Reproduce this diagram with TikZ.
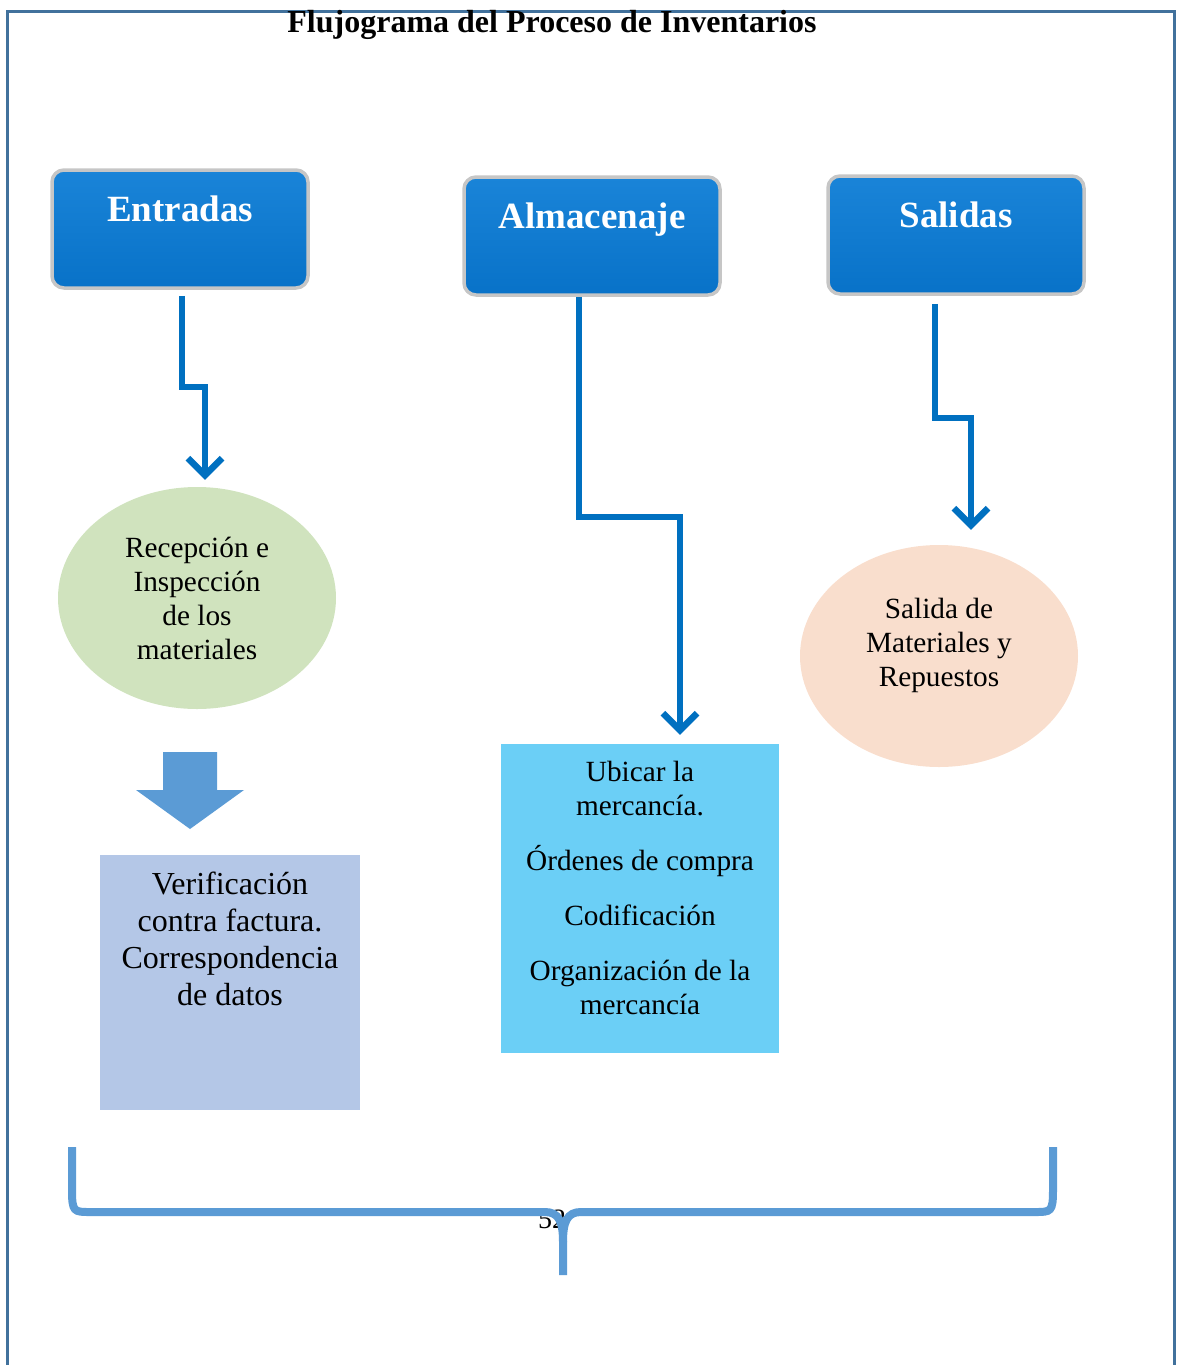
\documentclass[tikz,border=0pt]{standalone}
\usepackage{fontspec}
\setmainfont{Liberation Serif}
\usetikzlibrary{arrows.meta,shapes.geometric}
\definecolor{frameblue}{HTML}{41719C}
\definecolor{boxtop}{HTML}{1A84D8}
\definecolor{boxbot}{HTML}{0872C8}
\definecolor{connblue}{HTML}{0070C0}
\definecolor{softgreen}{HTML}{D0E3BE}
\definecolor{softpeach}{HTML}{F9DECD}
\definecolor{midblue}{HTML}{5B9BD5}
\definecolor{lavender}{HTML}{B4C7E7}
\definecolor{skyblue}{HTML}{6BCFF6}
\tikzset{
  headbox/.style={rectangle, rounded corners=12pt, draw=gray!45, line width=3.5pt,
    top color=boxtop, bottom color=boxbot, minimum width=256pt, minimum height=118pt,
    inner sep=0pt, text=white, font=\fontsize{37}{40}\selectfont\bfseries,
    text height=26pt, text depth=42pt},
  conn/.style={draw=connblue, line width=6.5pt, line join=miter,
    -{Straight Barb[length=17pt,width=34pt,line width=6.5pt]}},
  bubble/.style={ellipse, minimum width=278pt, minimum height=222pt, inner sep=0pt},
  bodytext/.style={align=center, font=\fontsize{29.3}{34}\selectfont, inner sep=0pt},
}
\begin{document}
\begin{tikzpicture}[x=1pt,y=-1pt]
\useasboundingbox (0,0) rectangle (1176,1365);
% frame
\draw[frameblue, line width=3pt] (7,1370) -- (7,11) -- (1174,11) -- (1174,1370);
% title
\node[font=\fontsize{32}{36}\selectfont\bfseries, anchor=base] (title) at (552,32) {Flujograma del Proceso de Inventarios};
% header boxes
\node[headbox] (ent) at (180,229) {Entradas};
\node[headbox] (alm) at (592,236) {Almacenaje};
\node[headbox] (sal) at (956,235) {Salidas};
% ellipses
\node[bubble, fill=softgreen, bodytext] (rec) at (197,598) {Recepción e\\Inspección\\de los\\materiales};
\node[bubble, fill=softpeach] (salm) at (939,656) {};
\node[bodytext] (salmtxt) at (939,645) {Salida de\\Materiales y\\Repuestos};
% rectangles
\node[rectangle, fill=lavender, minimum width=260pt, minimum height=255pt, inner sep=0pt] (ver) at (230,982.5) {};
\node[align=center, font=\fontsize{32}{37}\selectfont, inner sep=0pt, anchor=north] (vertxt) at (230,872) {Verificación\\contra factura.\\Correspondencia\\de datos};
\node[rectangle, fill=skyblue, minimum width=278pt, minimum height=309pt, inner sep=0pt] (ubi) at (640,898.5) {};
\node[bodytext, anchor=north] (ubitxt) at (640,761) {Ubicar la\\mercancía.\\[21pt]Órdenes de compra\\[21pt]Codificación\\[21pt]Organización de la\\mercancía};
% connectors
\draw[conn] (ent.south) ++(2,6) -- ++(0,91) -| ([xshift=25pt,yshift=7pt]ent.south |- rec.north);
\draw[conn] (alm.south) ++(-13,0) -- ++(0,220) -| ([xshift=40pt,yshift=9pt]ubi.north);
\draw[conn] (sal.south) ++(-21,8) -- ++(0,114) -| ([xshift=32pt,yshift=15pt]salm.north);
% block arrow
\fill[midblue] (163,752) -- (217,752) -- (217,790) -- (244,790) -- (190,829) -- (136,790) -- (163,790) -- cycle;
% page number
\node[font=\fontsize{28}{32}\selectfont, anchor=base] (pnum) at (552,1228) {52};
% brace
\draw[midblue, line width=8pt] (72,1147) -- (72,1190) .. controls (72,1212) and (74,1212) .. (90,1212) -- (545,1212) .. controls (559,1212) and (563,1222) .. (563,1242) -- (563,1275);
\draw[midblue, line width=8pt] (1053,1147) -- (1053,1190) .. controls (1053,1212) and (1051,1212) .. (1035,1212) -- (581,1212) .. controls (567,1212) and (563,1222) .. (563,1242);
\end{tikzpicture}
\end{document}
